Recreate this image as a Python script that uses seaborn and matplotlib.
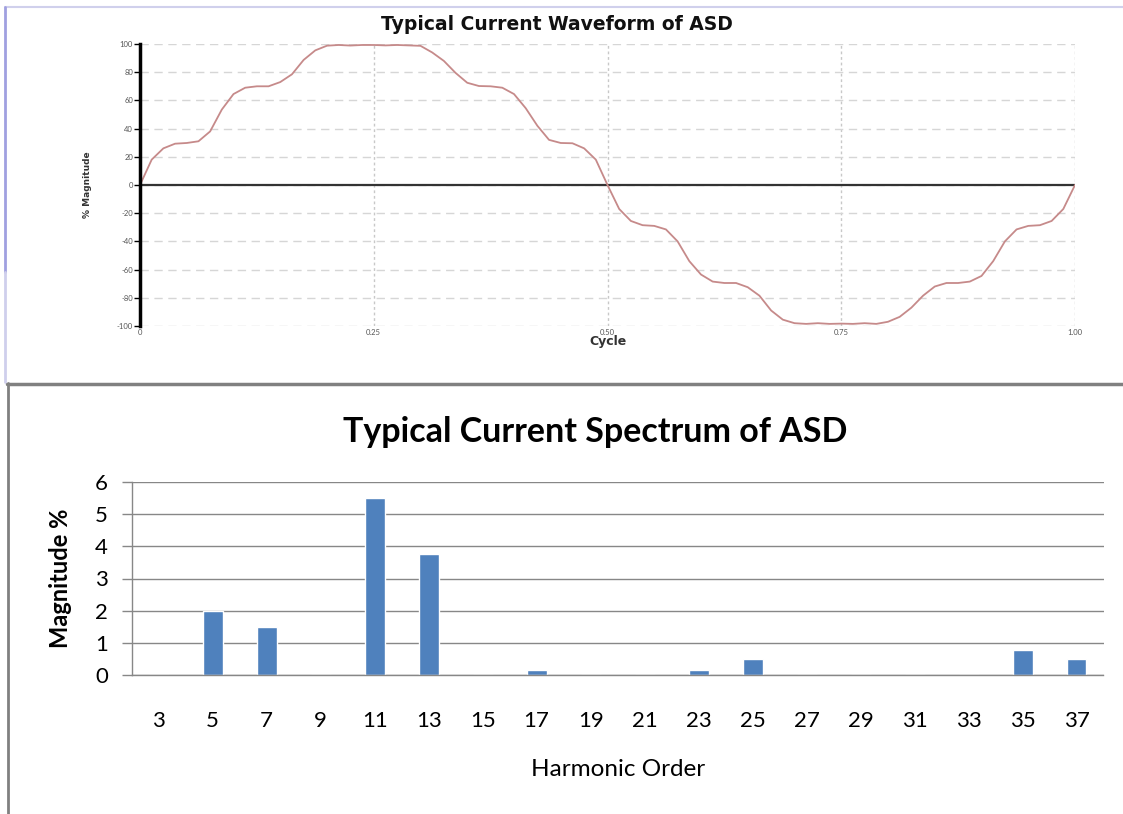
import matplotlib
matplotlib.use("Agg")
import matplotlib.pyplot as plt
import seaborn as sns
import pandas as pd
from matplotlib.lines import Line2D

# ---------------- data: top waveform ----------------
cycle = [0.0000, 0.0125, 0.0250, 0.0375, 0.0500, 0.0625, 0.0750, 0.0875, 0.1000, 0.1125,
         0.1250, 0.1375, 0.1500, 0.1625, 0.1750, 0.1875, 0.2000, 0.2125, 0.2250, 0.2375,
         0.2500, 0.2625, 0.2750, 0.2875, 0.3000, 0.3125, 0.3250, 0.3375, 0.3500, 0.3625,
         0.3750, 0.3875, 0.4000, 0.4125, 0.4250, 0.4375, 0.4500, 0.4625, 0.4750, 0.4875,
         0.5000, 0.5125, 0.5250, 0.5375, 0.5500, 0.5625, 0.5750, 0.5875, 0.6000, 0.6125,
         0.6250, 0.6375, 0.6500, 0.6625, 0.6750, 0.6875, 0.7000, 0.7125, 0.7250, 0.7375,
         0.7500, 0.7625, 0.7750, 0.7875, 0.8000, 0.8125, 0.8250, 0.8375, 0.8500, 0.8625,
         0.8750, 0.8875, 0.9000, 0.9125, 0.9250, 0.9375, 0.9500, 0.9625, 0.9750, 0.9875,
         1.0000]
wave_magnitude = [0, 18, 26, 29.3, 29.8, 31, 38, 53.5, 64.5, 69,
                  70, 70, 73, 78.5, 88.7, 95.5, 98.8, 99.3, 98.9, 99.3,
                  99.3, 99.0, 99.3, 99.0, 98.7, 94, 88, 79.5, 72.5, 70.2,
                  70, 69, 64.5, 54.5, 42, 32, 29.8, 29.6, 26, 18,
                  0, -17, -25.5, -28.5, -29, -31.5, -40, -54, -63.5, -68.5,
                  -69.5, -69.5, -72.5, -78.5, -89, -95.5, -98, -98.5, -98, -98.5,
                  -98.3, -98.5, -98, -98.5, -97, -93.5, -87, -78.5, -72, -69.5,
                  -69.5, -68.5, -64.5, -54, -40, -31.5, -29, -28.5, -25.5, -17,
                  0]
wave_yticks = [-100, -80, -60, -40, -20, 0, 20, 40, 60, 80, 100]
wave_xticks = [0, 0.25, 0.5, 0.75, 1.0]
wave_xticklabels = ["0", "0.25", "0.50", "0.75", "1.00"]

# ---------------- data: bottom spectrum ----------------
harmonic_orders = ["3", "5", "7", "9", "11", "13", "15", "17", "19", "21",
                   "23", "25", "27", "29", "31", "33", "35", "37"]
harmonic_magnitude = [0, 2.0, 1.5, 0, 5.5, 3.75, 0, 0.17, 0, 0,
                      0.17, 0.5, 0, 0, 0, 0, 0.78, 0.5]
spec_yticks = [0, 1, 2, 3, 4, 5, 6]

sns.set_theme(style="white")
plt.rcParams["font.family"] = ["Lato", "DejaVu Sans"]

W, H = 1123, 814
fig = plt.figure(figsize=(W / 100, H / 100), dpi=100)
fig.patch.set_facecolor("white")


def box(l, t, r, b):
    return [l / W, 1 - b / H, (r - l) / W, (b - t) / H]


def fx(px):
    return px / W


def fy(py):
    return 1 - py / H


# ---------------- top chart ----------------
ax1 = fig.add_axes(box(140, 44, 1075, 326))
sns.lineplot(x=cycle, y=wave_magnitude, ax=ax1, color="#c68a8a", linewidth=1.3)
ax1.set_xlim(0, 1)
ax1.set_ylim(-100, 100)
ax1.set_yticks(wave_yticks)
ax1.set_yticklabels([str(v) for v in wave_yticks])
ax1.set_xticks(wave_xticks)
ax1.set_xticklabels(wave_xticklabels)
ax1.yaxis.grid(True, linestyle=(0, (6, 4)), color="#d6d6d6", linewidth=1)
ax1.xaxis.grid(True, linestyle=(0, (2, 2)), color="#c8c8c8", linewidth=1)
ax1.set_axisbelow(True)
for s in ["top", "right", "bottom"]:
    ax1.spines[s].set_visible(False)
ax1.spines["left"].set_color("black")
ax1.spines["left"].set_linewidth(2.5)
ax1.axhline(0, color="#333333", linewidth=1.6, zorder=1.5)
ax1.tick_params(axis="y", direction="out", length=4, width=1, color="black",
                labelsize=5.5, labelcolor="#555555", pad=1, left=True)
ax1.tick_params(axis="x", length=0, labelsize=5.5, labelcolor="#555555", pad=2)
ax1.set_xlabel("Cycle", fontsize=9, fontweight="bold", family=["DejaVu Sans"],
               color="#333333")
ax1.xaxis.set_label_coords(0.5, -(335 - 326) / 282)
ax1.xaxis.label.set_va("top")
ax1.text((88 - 140) / 935, 0.5, "% Magnitude", transform=ax1.transAxes,
         rotation=90, ha="center", va="center", fontsize=6.5, fontweight="bold",
         family=["DejaVu Sans"], color="#333333")
fig.text(fx(557), fy(25), "Typical Current Waveform of ASD", ha="center", va="center",
         fontsize=13.5, fontweight="bold", family=["DejaVu Sans"], color="#111111")

# ---------------- bottom chart ----------------
ax2 = fig.add_axes(box(131.7, 482, 1103.5, 675))
df = pd.DataFrame({"order": harmonic_orders, "mag": harmonic_magnitude})
sns.barplot(data=df, x="order", y="mag", order=harmonic_orders, ax=ax2,
            color="#4f81bd", saturation=1, width=0.37, errorbar=None)
ax2.set_xlim(-0.5, len(harmonic_orders) - 0.5)
ax2.set_ylim(0, 6)
ax2.set_yticks(spec_yticks)
ax2.yaxis.grid(True, color="#878787", linewidth=1)
ax2.set_axisbelow(True)
for s in ["top", "right"]:
    ax2.spines[s].set_visible(False)
for s in ["left", "bottom"]:
    ax2.spines[s].set_color("#878787")
    ax2.spines[s].set_linewidth(1)
ax2.tick_params(axis="y", direction="out", length=7, width=1, color="#878787",
                labelsize=16, labelcolor="black", pad=10, left=True)
ax2.tick_params(axis="x", length=0, labelsize=16, labelcolor="black", pad=26)
ax2.set_xlabel("Harmonic Order", fontsize=17.5, color="black")
ax2.xaxis.set_label_coords(0.5, -(759 - 675) / 193)
ax2.xaxis.label.set_va("top")
ax2.set_ylabel("")
ax2.text((60 - 131.7) / 971.8, 0.5, "Magnitude %", transform=ax2.transAxes,
         rotation=90, ha="center", va="center", fontsize=17, fontweight="bold",
         color="black")
fig.text(fx(595), fy(432), "Typical Current Spectrum of ASD", ha="center", va="center",
         fontsize=24.5, fontweight="bold", color="black")

# ---------------- frame lines ----------------
fig.add_artist(Line2D([fx(5), fx(1123)], [fy(7), fy(7)], transform=fig.transFigure,
                      color="#d0d0ec", linewidth=1.5))
fig.add_artist(Line2D([fx(5), fx(5)], [fy(7), fy(272)], transform=fig.transFigure,
                      color="#a0a0e0", linewidth=2))
fig.add_artist(Line2D([fx(5), fx(5)], [fy(272), fy(382)], transform=fig.transFigure,
                      color="#cfcfec", linewidth=2))
fig.add_artist(Line2D([fx(7), fx(1123)], [fy(384), fy(384)], transform=fig.transFigure,
                      color="#808080", linewidth=2.5))
fig.add_artist(Line2D([fx(8), fx(8)], [fy(383), fy(814)], transform=fig.transFigure,
                      color="#808080", linewidth=2))

fig.savefig("out.png", dpi=100)
